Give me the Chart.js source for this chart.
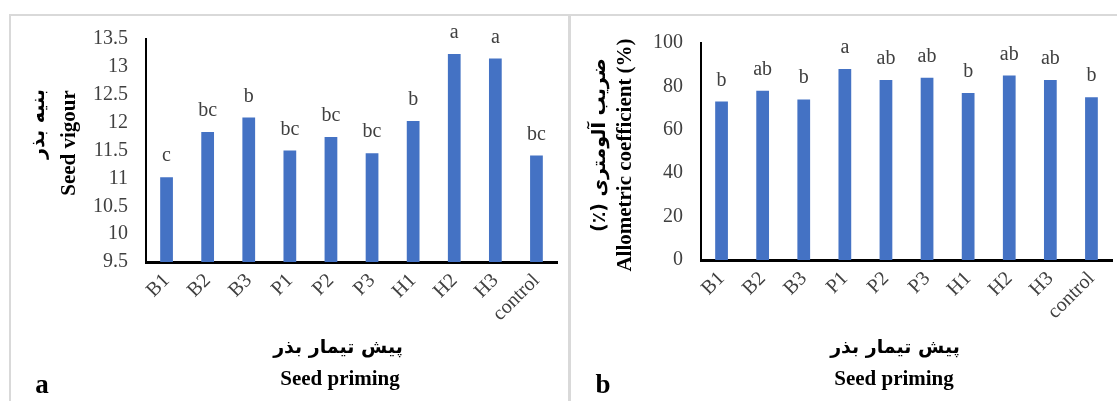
<!DOCTYPE html>
<html>
<head>
<meta charset="utf-8">
<script src="https://cdn.jsdelivr.net/npm/chart.js@4"></script>
<style>
  body { margin: 0; background: #fff; }
  #page { position: relative; width: 1117px; height: 401px; overflow: hidden; font-family: "Liberation Serif", "DejaVu Sans", serif; }
  canvas { position: absolute; top: 0; }
  .line { position: absolute; background: #d9d9d9; }
  .txt { position: absolute; white-space: nowrap; font-weight: bold; color: #000; transform: translate(-50%, -50%); }
  .rot { transform: translate(-50%, -50%) rotate(-90deg); }
  .fa { font-family: "DejaVu Sans", "Noto Sans", sans-serif; font-size: 19px; }
  .en { font-size: 21px; }
  .tag { font-size: 27px; }
</style>
</head>
<body>
<div id="page">
  <div class="line" style="left:9px;top:14px;width:1108px;height:2px"></div>
  <div class="line" style="left:9px;top:14px;width:2px;height:387px"></div>
  <div class="line" style="left:568px;top:14px;width:3px;height:387px"></div>

  <canvas id="vigourChart" width="568" height="401" style="left:0"></canvas>
  <canvas id="alloChart" width="547" height="401" style="left:570px"></canvas>

  <!-- panel a texts -->
  <div class="txt rot fa" dir="rtl" style="left:37px;top:124px">بنیه بذر</div>
  <div class="txt rot en" style="left:68px;top:143px">Seed vigour</div>
  <div class="txt fa" dir="rtl" style="left:338px;top:346px">پیش تیمار بذر</div>
  <div class="txt en" style="left:340px;top:378px">Seed priming</div>
  <div class="txt tag" style="left:42px;top:384px">a</div>

  <!-- panel b texts -->
  <div class="txt rot fa" dir="rtl" style="left:598px;top:145px">ضریب آلومتری (٪)</div>
  <div class="txt rot en" style="left:624px;top:155px">Allometric coefficient (%)</div>
  <div class="txt fa" dir="rtl" style="left:895px;top:346px">پیش تیمار بذر</div>
  <div class="txt en" style="left:894px;top:378px">Seed priming</div>
  <div class="txt tag" style="left:603px;top:384px">b</div>
</div>

<script>
// ---------------------- DATOS ----------------------
const categories = ["B1", "B2", "B3", "P1", "P2", "P3", "H1", "H2", "H3", "control"];

const vigourValues = [11.02, 11.83, 12.09, 11.5, 11.74, 11.45, 12.03, 13.23, 13.15, 11.41];
const vigourLetters = ["c", "bc", "b", "bc", "bc", "bc", "b", "a", "a", "bc"];
const vigourTicks = { min: 9.5, max: 13.5, step: 0.5 };

const alloValues = [73, 78, 74, 88, 83, 84, 77, 85, 83, 75];
const alloLetters = ["b", "ab", "b", "a", "ab", "ab", "b", "ab", "ab", "b"];
const alloTicks = { min: 0, max: 100, step: 20 };

const barColor = "#4472C4";
const tickFont = { family: "Liberation Serif", size: 20 };
const tickColor = "#404040";

// ---- letras de significancia sobre cada barra ----
const lettersPlugin = {
  id: "letters",
  afterDatasetsDraw(chart, args, opts) {
    const ctx = chart.ctx;
    const meta = chart.getDatasetMeta(0);
    ctx.save();
    ctx.font = "20px 'Liberation Serif'";
    ctx.fillStyle = tickColor;
    ctx.textAlign = "center";
    ctx.textBaseline = "alphabetic";
    meta.data.forEach((bar, i) => {
      ctx.fillText(opts.labels[i], bar.x, bar.y - 16);
    });
    ctx.restore();
  },
};

function makeChart(canvasId, values, letters, ticks, box) {
  return new Chart(document.getElementById(canvasId), {
    type: "bar",
    data: {
      labels: categories,
      datasets: [
        {
          data: values,
          backgroundColor: barColor,
          categoryPercentage: 1,
          barPercentage: 0.31,
        },
      ],
    },
    plugins: [lettersPlugin],
    options: {
      responsive: false,
      animation: false,
      events: [],
      layout: { padding: { top: box.top, right: box.right, left: 0, bottom: 0 } },
      plugins: {
        legend: { display: false },
        tooltip: { enabled: false },
        letters: { labels: letters },
      },
      scales: {
        x: {
          grid: { display: false, drawTicks: false },
          border: { display: true, color: "#000", width: 3 },
          ticks: {
            font: tickFont,
            color: tickColor,
            minRotation: 45,
            maxRotation: 45,
            autoSkip: false,
            padding: 7,
          },
          afterFit(scale) {
            scale.height = box.xHeight;
          },
        },
        y: {
          min: ticks.min,
          max: ticks.max,
          grid: { display: false, drawTicks: false },
          border: { display: true, color: "#000", width: 2 },
          ticks: {
            stepSize: ticks.step,
            font: tickFont,
            color: tickColor,
            padding: 18,
            callback: (v) => String(Number(v.toFixed(2))),
          },
          afterFit(scale) {
            scale.width = box.yWidth;
          },
        },
      },
    },
  });
}

// ---- GRAFICO a: SEED VIGOUR ----
makeChart("vigourChart", vigourValues, vigourLetters, vigourTicks, {
  top: 39, right: 11, xHeight: 139, yWidth: 146,
});

// ---- GRAFICO b: ALLOMETRIC COEFFICIENT ----
makeChart("alloChart", alloValues, alloLetters, alloTicks, {
  top: 43, right: 5, xHeight: 141, yWidth: 131,
});
</script>
</body>
</html>
